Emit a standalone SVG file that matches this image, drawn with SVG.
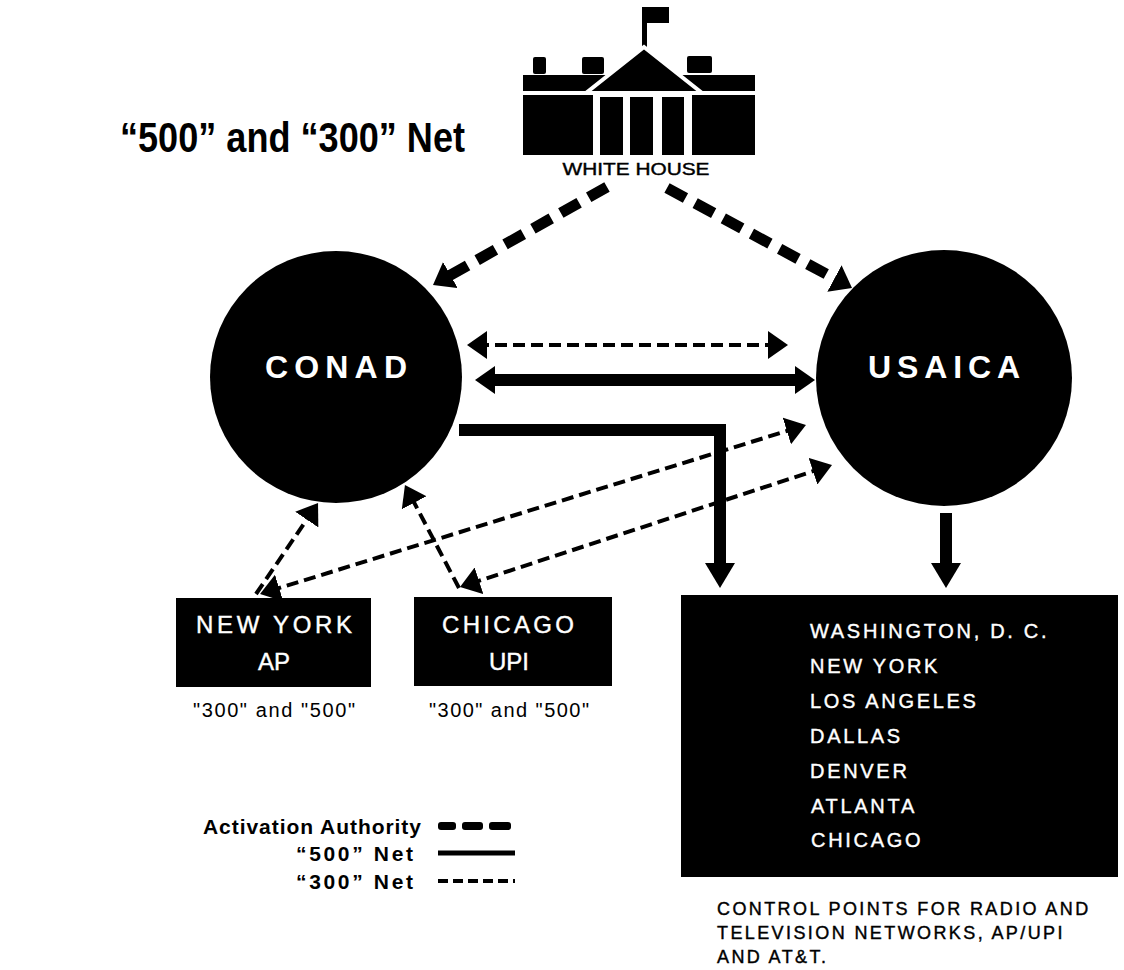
<svg xmlns="http://www.w3.org/2000/svg" width="1124" height="970" viewBox="0 0 1124 970">
<style>
.ink{fill:#000}
.wt{fill:#fff;font-family:"Liberation Sans",Arial,sans-serif}
.bt{fill:#000;font-family:"Liberation Sans",Arial,sans-serif}
.md{stroke-width:0.4;stroke:currentColor}
.act{fill:none;stroke:#000;stroke-width:11;stroke-dasharray:21 11}
.n500{fill:none;stroke:#000;stroke-width:12;stroke-linejoin:miter}
.n300{fill:none;stroke:#000;stroke-width:4;stroke-dasharray:12 6}
</style>
<defs>
<marker id="hA" markerUnits="userSpaceOnUse" viewBox="0 0 20 30" refX="6" refY="15" markerWidth="20" markerHeight="30" orient="auto-start-reverse"><path d="M0,0 L20,15 L0,30 Z" fill="#000"/></marker>
<marker id="hS" markerUnits="userSpaceOnUse" viewBox="0 0 20 28" refX="6" refY="14" markerWidth="20" markerHeight="28" orient="auto-start-reverse"><path d="M0,0 L20,14 L0,28 Z" fill="#000"/></marker>
<marker id="hD" markerUnits="userSpaceOnUse" viewBox="0 0 20 28" refX="10" refY="14" markerWidth="20" markerHeight="28" orient="auto-start-reverse"><path d="M0,0 L20,14 L0,28 Z" fill="#000"/></marker>
<marker id="hV" markerUnits="userSpaceOnUse" viewBox="0 0 25 30" refX="8" refY="15" markerWidth="25" markerHeight="30" orient="auto"><path d="M0,0 L25,15 L0,30 Z" fill="#000"/></marker>
</defs>
<rect width="1124" height="970" fill="#fff"/>

<g id="title">
<text class="bt" x="120" y="152" font-size="43" font-weight="bold" textLength="345" lengthAdjust="spacingAndGlyphs">“500” and “300” Net</text>
</g>

<g id="white-house">
<rect class="ink" x="642" y="7" width="27" height="16"/>
<rect class="ink" x="642" y="20" width="5" height="30"/>
<rect class="ink" x="533" y="57" width="13" height="17" rx="2"/>
<rect class="ink" x="582" y="57" width="22" height="17" rx="2"/>
<rect class="ink" x="687" y="56" width="25" height="17" rx="2"/>
<rect class="ink" x="523" y="75" width="95" height="16"/>
<rect class="ink" x="668" y="75" width="87" height="16"/>
<polygon points="644,47 702,93 586,93" fill="#000" stroke="#fff" stroke-width="4" stroke-linejoin="miter"/>
<rect class="ink" x="523" y="95" width="70" height="60"/>
<rect class="ink" x="600" y="97" width="23" height="58"/>
<rect class="ink" x="630" y="97" width="23" height="58"/>
<rect class="ink" x="662" y="97" width="22" height="58"/>
<rect class="ink" x="692" y="95" width="63" height="60"/>
<text class="bt md" color="#000" x="636" y="175" font-size="17" text-anchor="middle" textLength="147" lengthAdjust="spacingAndGlyphs">WHITE HOUSE</text>
</g>

<g id="conad">
<circle class="ink" cx="336" cy="377" r="126"/>
<text class="wt" x="336" y="378" font-size="32" font-weight="bold" text-anchor="middle" textLength="142">CONAD</text>
</g>

<g id="usaica">
<circle class="ink" cx="944" cy="378" r="128"/>
<text class="wt" x="944" y="378" font-size="32" font-weight="bold" text-anchor="middle" textLength="152">USAICA</text>
</g>

<g id="ny-ap">
<rect class="ink" x="176" y="598" width="195" height="89"/>
<text class="wt md" color="#fff" x="274" y="633" font-size="24" text-anchor="middle" textLength="156">NEW YORK</text>
<text class="wt md" color="#fff" x="274" y="670" font-size="24" text-anchor="middle">AP</text>
<text class="bt" x="274" y="717" font-size="20" text-anchor="middle" textLength="162">"300" and "500"</text>
</g>

<g id="chicago-upi">
<rect class="ink" x="414" y="597" width="198" height="89"/>
<text class="wt md" color="#fff" x="508" y="633" font-size="24" text-anchor="middle" textLength="132">CHICAGO</text>
<text class="wt md" color="#fff" x="509" y="670" font-size="24" text-anchor="middle">UPI</text>
<text class="bt" x="509" y="717" font-size="20" text-anchor="middle" textLength="160">"300" and "500"</text>
</g>

<g id="control-points">
<rect class="ink" x="681" y="595" width="437" height="282"/>
<g class="wt md" color="#fff" font-size="20" letter-spacing="2.7">
<text x="810" y="638">WASHINGTON, D. C.</text>
<text x="810" y="673">NEW YORK</text>
<text x="810" y="708">LOS ANGELES</text>
<text x="810" y="743">DALLAS</text>
<text x="810" y="778">DENVER</text>
<text x="811" y="813">ATLANTA</text>
<text x="811" y="847">CHICAGO</text>
</g>
<g class="bt md" color="#000" font-size="18" letter-spacing="2.4">
<text x="717" y="915">CONTROL POINTS FOR RADIO AND</text>
<text x="717" y="939">TELEVISION NETWORKS, AP/UPI</text>
<text x="717" y="963">AND AT&amp;T.</text>
</g>
</g>

<g id="connectors">
<path class="act" d="M607,187 L445.2,278.1" marker-end="url(#hA)"/>
<path class="act" d="M667,188 L839.7,281.3" marker-end="url(#hA)"/>
<path class="n300" d="M477,345 L778,345" marker-start="url(#hD)" marker-end="url(#hD)"/>
<path class="n500" d="M489,380 L801,380" marker-start="url(#hS)" marker-end="url(#hS)"/>
<path class="n500" d="M459,430 H720 V571" marker-end="url(#hV)"/>
<path class="n500" d="M946,513 V571" marker-end="url(#hV)"/>
<path class="n300" d="M256,594 L312.4,511.3" marker-end="url(#hD)"/>
<path class="n300" d="M459,588 L409.6,493.9" marker-end="url(#hD)"/>
<path class="n300" d="M269.6,591 L796.4,428" marker-start="url(#hD)" marker-end="url(#hD)"/>
<path class="n300" d="M469.5,583.9 L822.5,468.1" marker-start="url(#hD)" marker-end="url(#hD)"/>
</g>

<g id="legend">
<text class="bt" x="421" y="834" font-size="21" font-weight="bold" text-anchor="end" textLength="218">Activation Authority</text>
<rect class="ink" x="438" y="822" width="18" height="8" rx="3"/>
<rect class="ink" x="462" y="822" width="21" height="8" rx="3"/>
<rect class="ink" x="489" y="822" width="22" height="8" rx="3"/>
<text class="bt" x="413" y="861" font-size="21" font-weight="bold" text-anchor="end" textLength="117">“500” Net</text>
<line x1="438" y1="853" x2="515" y2="853" stroke="#000" stroke-width="5"/>
<text class="bt" x="413" y="889" font-size="21" font-weight="bold" text-anchor="end" textLength="117">“300” Net</text>
<line x1="438" y1="881" x2="515" y2="881" stroke="#000" stroke-width="4" stroke-dasharray="10 5"/>
</g>
</svg>
